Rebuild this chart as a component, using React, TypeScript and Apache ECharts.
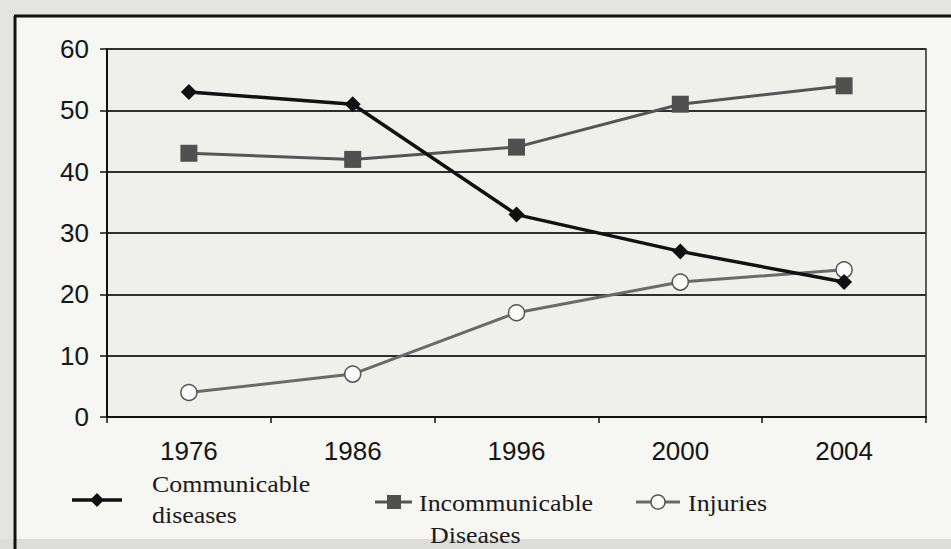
import React, { useEffect, useRef } from "react";
import * as echarts from "echarts";

const years = ["1976", "1986", "1996", "2000", "2004"];
const communicable = [53, 51, 33, 27, 22];
const incommunicable = [43, 42, 44, 51, 54];
const injuries = [4, 7, 17, 22, 24];

const serif = "'Liberation Serif', 'DejaVu Serif', serif";
const sans = "'Liberation Sans', Arial, sans-serif";

export default function App() {
  const ref = useRef<HTMLDivElement>(null);
  useEffect(() => {
    const chart = echarts.init(ref.current!, null, { renderer: "svg" });
    const legendText = (x: number, y: number, text: string) => ({
      type: "text",
      x,
      y,
      z: 100,
      scaleX: 1.08,
      style: {
        text,
        font: `24px ${serif}`,
        fill: "#1a1a1a",
        verticalAlign: "middle",
        align: "left",
      },
    });
    chart.setOption({
      animation: false,
      backgroundColor: "#f6f6f3",
      grid: {
        left: 107,
        right: 25,
        top: 49,
        bottom: 132,
        show: true,
        backgroundColor: "#efefec",
        borderColor: "#2a2a2a",
        borderWidth: 1.5,
      },
      xAxis: {
        type: "category",
        data: years,
        boundaryGap: true,
        axisLine: { lineStyle: { color: "#111", width: 2 } },
        axisTick: { show: true, length: 6, lineStyle: { color: "#111", width: 1.5 } },
        axisLabel: { fontFamily: sans, fontSize: 26, color: "#151515", margin: 21 },
      },
      yAxis: {
        type: "value",
        min: 0,
        max: 60,
        interval: 10,
        axisLine: { show: true, lineStyle: { color: "#111", width: 2 } },
        axisTick: { show: true, length: 7, lineStyle: { color: "#111", width: 1.5 } },
        axisLabel: { fontFamily: sans, fontSize: 26, color: "#151515", margin: 18 },
        splitLine: { lineStyle: { color: "#2e2e2e", width: 1.8 } },
      },
      series: [
        {
          name: "Communicable diseases",
          type: "line",
          data: communicable,
          symbol: "diamond",
          symbolSize: 16,
          lineStyle: { color: "#111", width: 3.5 },
          itemStyle: { color: "#111" },
          z: 5,
        },
        {
          name: "Incommunicable Diseases",
          type: "line",
          data: incommunicable,
          symbol: "rect",
          symbolSize: 17,
          lineStyle: { color: "#555", width: 3 },
          itemStyle: { color: "#505050" },
          z: 4,
        },
        {
          name: "Injuries",
          type: "line",
          data: injuries,
          symbol: "circle",
          symbolSize: 16,
          lineStyle: { color: "#6a6a6a", width: 3 },
          itemStyle: { color: "#fbfbfb", borderColor: "#555", borderWidth: 1.5 },
          z: 3,
        },
      ],
      graphic: [
        { type: "rect", shape: { x: 0, y: 0, width: 951, height: 15 }, style: { fill: "#e4e4e0" }, z: 50 },
        { type: "rect", shape: { x: 0, y: 0, width: 13, height: 549 }, style: { fill: "#e4e4e0" }, z: 50 },
        { type: "rect", shape: { x: 0, y: 539, width: 951, height: 10 }, style: { fill: "#dcdcd8" }, z: 50 },
        { type: "line", shape: { x1: 14, y1: 16, x2: 951, y2: 16 }, style: { stroke: "#111", lineWidth: 3 }, z: 51 },
        { type: "line", shape: { x1: 15, y1: 16, x2: 15, y2: 549 }, style: { stroke: "#111", lineWidth: 3 }, z: 51 },
        { type: "line", shape: { x1: 72, y1: 500, x2: 122, y2: 500 }, style: { stroke: "#111", lineWidth: 3.5 }, z: 100 },
        { type: "polygon", shape: { points: [[97, 493], [104, 500], [97, 507], [90, 500]] }, style: { fill: "#111" }, z: 101 },
        legendText(152, 484, "Communicable"),
        legendText(152, 515, "diseases"),
        { type: "line", shape: { x1: 375, y1: 502, x2: 412, y2: 502 }, style: { stroke: "#555", lineWidth: 3 }, z: 100 },
        { type: "rect", shape: { x: 387, y: 495, width: 14, height: 14 }, style: { fill: "#505050" }, z: 101 },
        legendText(419, 503, "Incommunicable"),
        legendText(430, 535, "Diseases"),
        { type: "line", shape: { x1: 636, y1: 502, x2: 680, y2: 502 }, style: { stroke: "#6a6a6a", lineWidth: 3 }, z: 100 },
        { type: "circle", shape: { cx: 658, cy: 502, r: 7 }, style: { fill: "#fbfbfb", stroke: "#555", lineWidth: 1.5 }, z: 101 },
        legendText(688, 503, "Injuries"),
      ],
    });
    return () => chart.dispose();
  }, []);
  return (
    <div
      ref={ref}
      style={{ position: "fixed", left: 0, top: 0, width: 951, height: 549 }}
    />
  );
}
